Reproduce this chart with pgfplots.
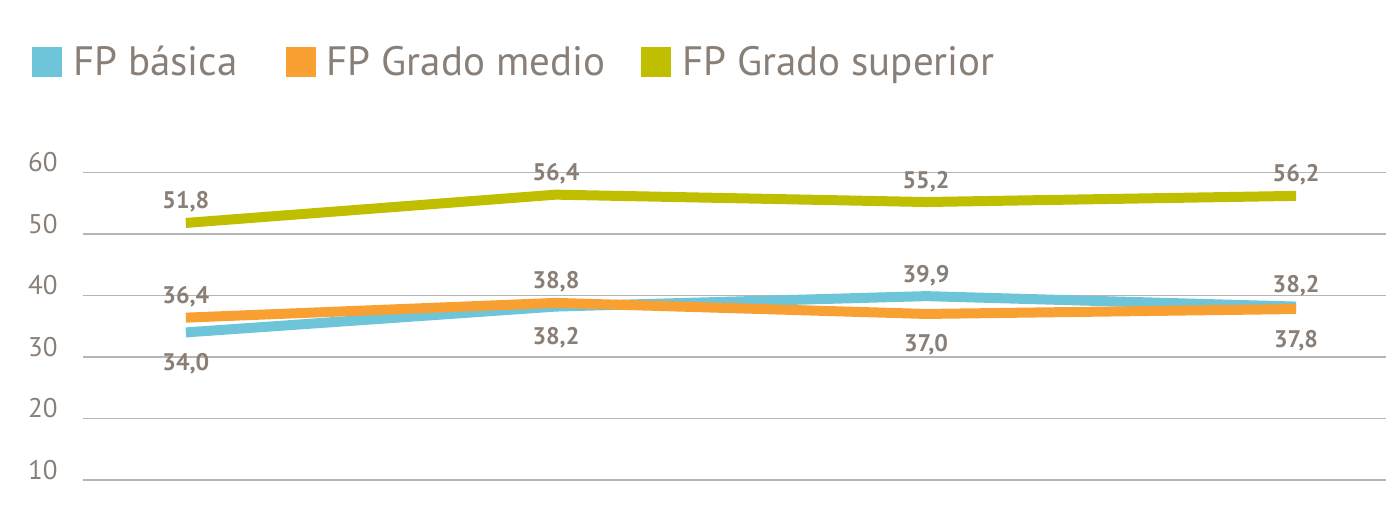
\documentclass[border=0pt]{standalone}
\usepackage{pgfplots}
\usepackage{pgfplotstable}
\pgfplotsset{compat=1.18}
\usepackage{fontspec}
\setmainfont{PT Sans}
\definecolor{cblue}{HTML}{6EC4D8}
\definecolor{corange}{HTML}{F9A033}
\definecolor{cgreen}{HTML}{C0BE00}
\definecolor{ctext}{HTML}{8A7F76}
\definecolor{cgrid}{HTML}{B5B5B5}

\pgfplotstableread{
x y l s
0 34.0 34,0 -19
1 38.2 38,2 -19
2 39.9 39,9 7
3 38.2 38,2 7
}\tblue
\pgfplotstableread{
x y l s
0 36.4 36,4 7
1 38.8 38,8 7
2 37.0 37,0 -19
3 37.8 37,8 -19
}\torange
\pgfplotstableread{
x y l s
0 51.8 51,8 7
1 56.4 56,4 7
2 55.2 55,2 7
3 56.2 56,2 7
}\tgreen

\begin{document}
\begin{tikzpicture}
\begin{axis}[
  at={(0,0)}, anchor=south west, scale only axis,
  width=651.5pt, height=153.75pt,
  xmin=-0.278, xmax=3.243, ymin=10, ymax=60,
  ytick={10,20,...,60}, xtick=\empty,
  ymajorgrids, grid style={cgrid, line width=0.8pt},
  axis line style={draw=none}, major tick length=0pt,
  /pgf/number format/assume math mode=true,
  yticklabel style={anchor=base east, inner sep=0pt, xshift=-12.5pt, yshift=0.5pt,
    font=\fontsize{13.5}{13.5}\selectfont, text=ctext},
  clip=false,
  legend columns=3,
  legend image code/.code={\fill[#1, draw=none] (0pt,-7.5pt) rectangle (15pt,7.5pt);},
  legend style={at={(rel axis cs:-0.0391,1.359)}, anchor=west, draw=none, fill=none,
    inner sep=0pt, outer sep=0pt, font=\fontsize{20.5}{20.5}\selectfont, text=ctext,
    nodes={inner sep=0pt},
    /tikz/every odd column/.append style={column sep=5.5pt},
    /tikz/column 2/.style={column sep=24pt},
    /tikz/column 4/.style={column sep=18pt}},
  nodes near coords,
  point meta=explicit symbolic,
  visualization depends on={\thisrow{s} \as \sh},
  every node near coord/.append style={anchor=base, inner sep=0pt, yshift=\sh pt,
    font=\bfseries\fontsize{12}{12}\selectfont, text=ctext},
]
\addplot[cblue, line width=5pt] table[x=x, y=y, meta=l] {\tblue};
\addlegendentry{FP básica}
\addplot[corange, line width=5pt] table[x=x, y=y, meta=l] {\torange};
\addlegendentry{FP Grado medio}
\addplot[cgreen, line width=5pt] table[x=x, y=y, meta=l] {\tgreen};
\addlegendentry{FP Grado superior}
\end{axis}
\pgfresetboundingbox
\useasboundingbox (-41.5pt,-15pt) rectangle (651.5pt,240pt);
\end{tikzpicture}
\end{document}
